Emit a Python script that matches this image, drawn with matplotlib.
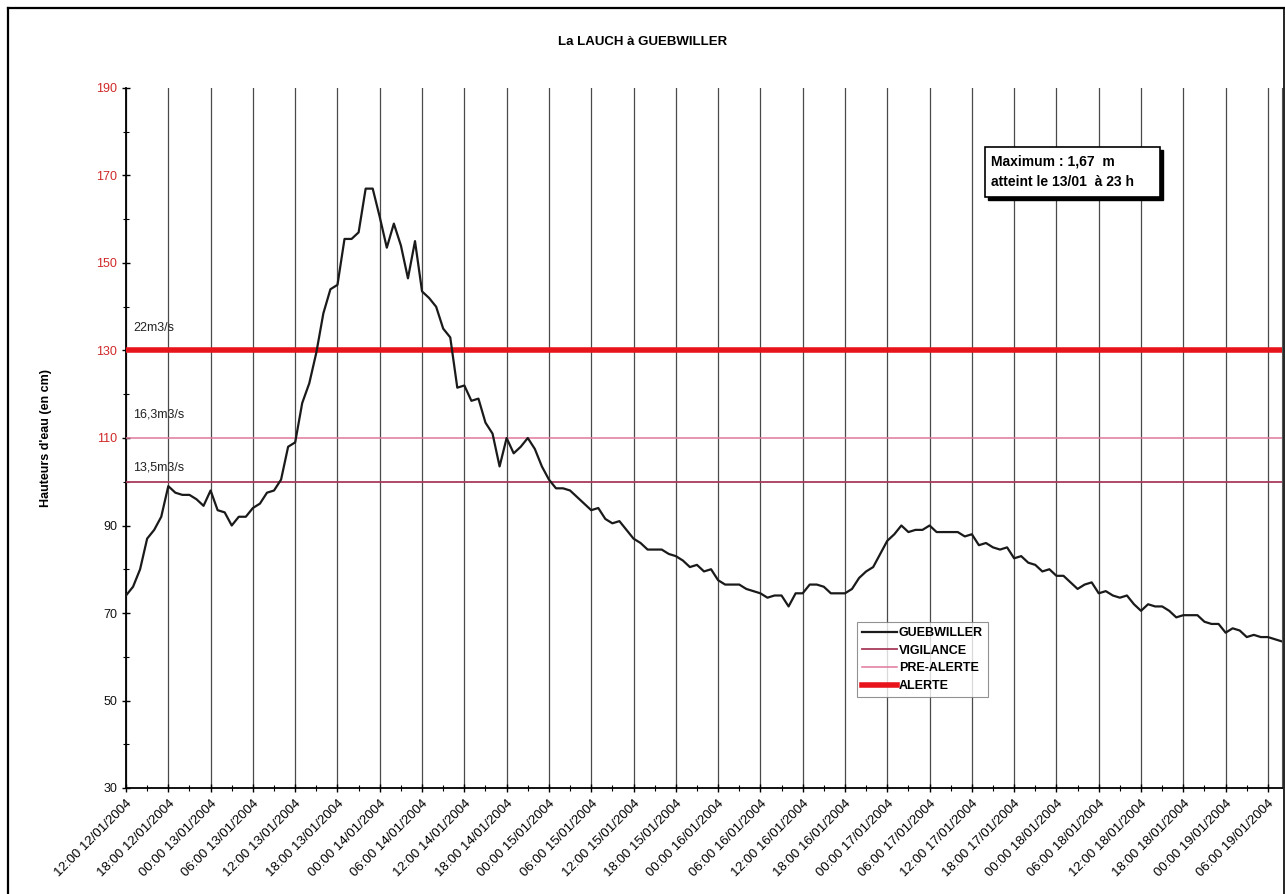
import numpy as np
import pandas as pd
import matplotlib
matplotlib.use("Agg")
import matplotlib.pyplot as plt
import matplotlib.dates as mdates
from matplotlib.lines import Line2D
from matplotlib.patches import Rectangle

plt.rcParams["font.family"] = ["Liberation Sans", "DejaVu Sans"]

# hauteurs horaires (cm), station de Guebwiller, a partir du 12/01/2004 12:00
debut = "2004-01-12 12:00"
hauteurs = [
    74, 76, 80, 87, 89, 92, 99, 97.5, 97, 97, 96, 94.5,
    98, 93.5, 93, 90, 92, 92, 94, 95, 97.5, 98, 100.5, 108,
    109, 118, 122.5, 129.5, 138.5, 144, 145, 155.5, 155.5, 157, 167, 167,
    160.5, 153.5, 159, 154, 146.5, 155, 143.5, 142, 140, 135, 133, 121.5,
    122, 118.5, 119, 113.5, 111, 103.5, 110, 106.5, 108, 110, 107.5, 103.5,
    100.5, 98.5, 98.5, 98, 96.5, 95, 93.5, 94, 91.5, 90.5, 91, 89,
    87, 86, 84.5, 84.5, 84.5, 83.5, 83, 82, 80.5, 81, 79.5, 80,
    77.5, 76.5, 76.5, 76.5, 75.5, 75, 74.5, 73.5, 74, 74, 71.5, 74.5,
    74.5, 76.5, 76.5, 76, 74.5, 74.5, 74.5, 75.5, 78, 79.5, 80.5, 83.5,
    86.5, 88, 90, 88.5, 89, 89, 90, 88.5, 88.5, 88.5, 88.5, 87.5,
    88, 85.5, 86, 85, 84.5, 85, 82.5, 83, 81.5, 81, 79.5, 80,
    78.5, 78.5, 77, 75.5, 76.5, 77, 74.5, 75, 74, 73.5, 74, 72,
    70.5, 72, 71.5, 71.5, 70.5, 69, 69.5, 69.5, 69.5, 68, 67.5, 67.5,
    65.5, 66.5, 66, 64.5, 65, 64.5, 64.5, 64, 63.5,
]

# seuils d'alerte
seuil_noms = ["VIGILANCE", "PRE-ALERTE", "ALERTE"]
seuil_valeurs = [100, 110, 130]
seuil_debits = ["13,5m3/s", "16,3m3/s", "22m3/s"]
seuil_couleurs = ["#a83a5a", "#e0789a", "#e8141c"]
seuil_epaisseurs = [1.3, 1.1, 4.0]

max_texte = "Maximum : 1,67  m\natteint le 13/01  à 23 h"

t = pd.date_range(debut, periods=len(hauteurs), freq="h")

fig = plt.figure(figsize=(12.85, 8.94), dpi=100)
ax = fig.add_axes([126 / 1285, 1 - 788 / 894, (1282 - 126) / 1285, 700 / 894])

ax.plot(t, hauteurs, color="#1a1a1a", lw=1.6, label="GUEBWILLER", zorder=4)
for nom, v, c, w in zip(seuil_noms, seuil_valeurs, seuil_couleurs, seuil_epaisseurs):
    ax.axhline(v, color=c, lw=w, label=nom, zorder=3)

# debits associes, ecrits au-dessus de chaque seuil
for deb, v, dy in zip(seuil_debits, seuil_valeurs, [10, 17, 16]):
    ax.annotate(deb, (t[1], v), xytext=(0, dy), textcoords="offset points",
                fontsize=9, ha="left", va="center", color="#222")

ax.set_xlim(t[0], t[-1])
ax.set_ylim(30, 190)
ax.set_yticks(np.arange(30, 191, 20))
ax.set_yticks(np.arange(40, 191, 20), minor=True)
for lab, v in zip(ax.get_yticklabels(), np.arange(30, 191, 20)):
    lab.set_color("#d02828" if v >= 110 else "#111")

ax.xaxis.set_major_locator(mdates.HourLocator(byhour=[0, 6, 12, 18]))
ax.xaxis.set_minor_locator(mdates.HourLocator(byhour=[3, 9, 15, 21]))
ax.xaxis.set_major_formatter(mdates.DateFormatter("%H:%M %d/%m/%Y"))
plt.setp(ax.get_xticklabels(), rotation=45, ha="right", rotation_mode="anchor", fontsize=9.5)
ax.tick_params(axis="y", labelsize=9, direction="inout", length=6, width=1)
ax.tick_params(axis="y", which="minor", direction="inout", length=5, width=0.8)
ax.tick_params(axis="x", direction="inout", length=6, width=1, pad=4)
ax.tick_params(axis="x", which="minor", direction="inout", length=4, width=0.8)

ax.grid(axis="x", which="major", color="#4a4a4a", lw=0.9)
ax.spines["top"].set_visible(False)
ax.spines["right"].set_color("#555")
ax.spines["left"].set_linewidth(1.3)
ax.spines["bottom"].set_linewidth(1.3)

ax.set_ylabel("Hauteurs d'eau (en cm)", fontsize=9, fontweight="bold", labelpad=32)
fig.text(643 / 1285, 1 - 42 / 894, "La LAUCH à GUEBWILLER", ha="center", va="center",
         fontsize=9.5, fontweight="bold")

# encadre du maximum avec ombre portee
bx0, bx1 = (985 - 126) / 1156, (1160 - 126) / 1156
by0, by1 = (788 - 197) / 700, (788 - 147) / 700
ax.add_patch(Rectangle((bx0 + 0.003, by0 - 0.005), bx1 - bx0, by1 - by0, transform=ax.transAxes,
                       facecolor="black", edgecolor="black", zorder=6))
ax.add_patch(Rectangle((bx0, by0), bx1 - bx0, by1 - by0, transform=ax.transAxes,
                       facecolor="white", edgecolor="black", lw=1.2, zorder=7))
ax.text(bx0 + 0.005, (by0 + by1) / 2, max_texte, transform=ax.transAxes, ha="left", va="center",
        fontsize=10, fontweight="bold", linespacing=1.6, zorder=8)

leg = ax.legend(loc="upper left", bbox_to_anchor=((857 - 126) / 1156, (788 - 622) / 700),
                fontsize=9, frameon=True, fancybox=False, edgecolor="#777", borderpad=0.4,
                handlelength=2.8, handletextpad=0.15, labelspacing=0.45, borderaxespad=0)
leg.get_frame().set_linewidth(0.8)
for txt in leg.get_texts():
    txt.set_fontweight("bold")

# cadre exterieur
fig.add_artist(Line2D([8 / 1285, 8 / 1285], [0, 1 - 8 / 894], color="black", lw=1.6))
fig.add_artist(Line2D([8 / 1285, 1284 / 1285], [1 - 8 / 894, 1 - 8 / 894], color="black", lw=1.6))
fig.add_artist(Line2D([1284 / 1285, 1284 / 1285], [0, 1 - 8 / 894], color="black", lw=1.2))

fig.savefig("out.png", dpi=100)
